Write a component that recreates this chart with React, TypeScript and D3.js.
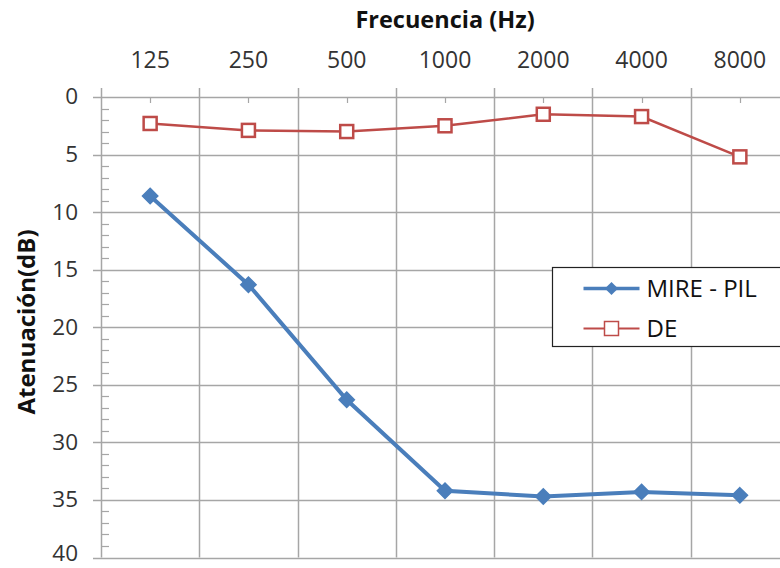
import * as d3 from "d3";
import { useEffect, useRef } from "react";

const freqs = ["125", "250", "500", "1000", "2000", "4000", "8000"];
const mirePil = [8.6, 16.3, 26.3, 34.2, 34.7, 34.3, 34.6];
const de = [2.3, 2.9, 3.0, 2.5, 1.5, 1.7, 5.2];
const yTicks = [0, 5, 10, 15, 20, 25, 30, 35, 40];
const seriesNames = ["MIRE - PIL", "DE"];

const W = 780;
const H = 568;
const BLUE = "#4a7ebb";
const RED = "#be4b48";
const GRID = "#a6a6a6";
const FONT = "'Open Sans', 'Noto Sans', sans-serif";

export default function App() {
  const ref = useRef<SVGSVGElement | null>(null);

  useEffect(() => {
    if (!ref.current) return;
    const svg = d3.select(ref.current);
    svg.selectAll("*").remove();

    const x = d3.scaleBand().domain(freqs).range([101, 789]);
    const y = d3.scaleLinear().domain([0, 40]).range([97, 557.5]);
    const cx = (f: string) => (x(f) ?? 0) + x.bandwidth() / 2;

    svg.append("rect").attr("width", W).attr("height", H).attr("fill", "#fff");

    // horizontal gridlines
    svg
      .append("g")
      .selectAll("line")
      .data(yTicks)
      .join("line")
      .attr("x1", 93)
      .attr("x2", W)
      .attr("y1", (d) => Math.round(y(d)) + 0.5)
      .attr("y2", (d) => Math.round(y(d)) + 0.5)
      .attr("stroke", GRID)
      .attr("stroke-width", 1.5);

    // vertical gridlines at category boundaries (incl. left axis)
    const bounds = freqs.map((f) => x(f) ?? 0);
    svg
      .append("g")
      .selectAll("line")
      .data(bounds)
      .join("line")
      .attr("x1", (d) => Math.round(d) + 0.5)
      .attr("x2", (d) => Math.round(d) + 0.5)
      .attr("y1", 88)
      .attr("y2", y(40))
      .attr("stroke", GRID)
      .attr("stroke-width", 1.5);

    // minor ticks on y axis
    const minor = d3.range(0, 41).filter((v) => v % 5 !== 0);
    svg
      .append("g")
      .selectAll("line")
      .data(minor)
      .join("line")
      .attr("x1", 101)
      .attr("x2", 109)
      .attr("y1", (d) => Math.round(y(d)) + 0.5)
      .attr("y2", (d) => Math.round(y(d)) + 0.5)
      .attr("stroke", GRID)
      .attr("stroke-width", 1.2);

    // category ticks on top axis
    svg
      .append("g")
      .selectAll("line")
      .data(freqs)
      .join("line")
      .attr("x1", (d) => Math.round(cx(d)) + 0.5)
      .attr("x2", (d) => Math.round(cx(d)) + 0.5)
      .attr("y1", y(0))
      .attr("y2", y(0) + 6)
      .attr("stroke", GRID)
      .attr("stroke-width", 1.2);

    // tick labels
    svg
      .append("g")
      .selectAll("text")
      .data(freqs)
      .join("text")
      .attr("x", (d) => cx(d))
      .attr("y", 68)
      .attr("text-anchor", "middle")
      .attr("font-family", FONT)
      .attr("font-size", 23)
      .attr("fill", "#333")
      .text((d) => d);

    svg
      .append("g")
      .selectAll("text")
      .data(yTicks)
      .join("text")
      .attr("x", 78)
      .attr("y", (d) => Math.min(y(d), 554))
      .attr("dy", "0.33em")
      .attr("text-anchor", "end")
      .attr("font-family", FONT)
      .attr("font-size", 22.5)
      .attr("fill", "#333")
      .text((d) => d);

    // titles
    svg
      .append("text")
      .attr("x", 445)
      .attr("y", 28)
      .attr("text-anchor", "middle")
      .attr("font-family", FONT)
      .attr("font-weight", "bold")
      .attr("font-size", 23.5)
      .attr("fill", "#111")
      .text("Frecuencia (Hz)");

    svg
      .append("text")
      .attr("transform", "translate(35,322) rotate(-90)")
      .attr("text-anchor", "middle")
      .attr("font-family", FONT)
      .attr("font-weight", "bold")
      .attr("font-size", 24)
      .attr("fill", "#111")
      .text("Atenuación(dB)");

    const line = d3
      .line<number>()
      .x((_, i) => cx(freqs[i]))
      .y((d) => y(d));

    const diamond = d3.symbol().type(d3.symbolDiamond2).size(150);

    // MIRE - PIL
    svg.append("path").attr("d", line(mirePil)).attr("fill", "none").attr("stroke", BLUE).attr("stroke-width", 4);
    svg
      .append("g")
      .selectAll("path")
      .data(mirePil)
      .join("path")
      .attr("transform", (d, i) => `translate(${cx(freqs[i])},${y(d)})`)
      .attr("d", diamond())
      .attr("fill", BLUE)
      .attr("stroke", BLUE)
      .attr("stroke-width", 1.5);

    // DE
    svg.append("path").attr("d", line(de)).attr("fill", "none").attr("stroke", RED).attr("stroke-width", 2.5);
    svg
      .append("g")
      .selectAll("rect")
      .data(de)
      .join("rect")
      .attr("x", (d, i) => cx(freqs[i]) - 6.5)
      .attr("y", (d) => y(d) - 6.5)
      .attr("width", 13)
      .attr("height", 13)
      .attr("fill", "#fff")
      .attr("stroke", RED)
      .attr("stroke-width", 2.5);

    // legend
    const lg = svg.append("g").attr("transform", "translate(552.5,267.5)");
    lg.append("rect").attr("width", 240).attr("height", 79).attr("fill", "#fff").attr("stroke", "#222").attr("stroke-width", 1.2);
    const rows = [
      { name: seriesNames[0], color: BLUE, yy: 21 },
      { name: seriesNames[1], color: RED, yy: 61 },
    ];
    rows.forEach((r, i) => {
      lg.append("line")
        .attr("x1", 31)
        .attr("x2", 87)
        .attr("y1", r.yy)
        .attr("y2", r.yy)
        .attr("stroke", r.color)
        .attr("stroke-width", i === 0 ? 3.5 : 2);
      if (i === 0) {
        lg.append("path").attr("transform", `translate(59,${r.yy})`).attr("d", d3.symbol().type(d3.symbolDiamond2).size(110)()).attr("fill", BLUE);
      } else {
        lg.append("rect").attr("x", 52).attr("y", r.yy - 7).attr("width", 14).attr("height", 14).attr("fill", "#fff").attr("stroke", RED).attr("stroke-width", 1.5);
      }
      lg.append("text")
        .attr("x", 94)
        .attr("y", r.yy)
        .attr("dy", "0.35em")
        .attr("font-family", FONT)
        .attr("font-size", 24)
        .attr("fill", "#111")
        .text(r.name);
    });
  }, []);

  return (
    <div style={{ position: "absolute", left: 0, top: 0 }}>
      <svg ref={ref} width={W} height={H} style={{ display: "block" }} />
    </div>
  );
}
